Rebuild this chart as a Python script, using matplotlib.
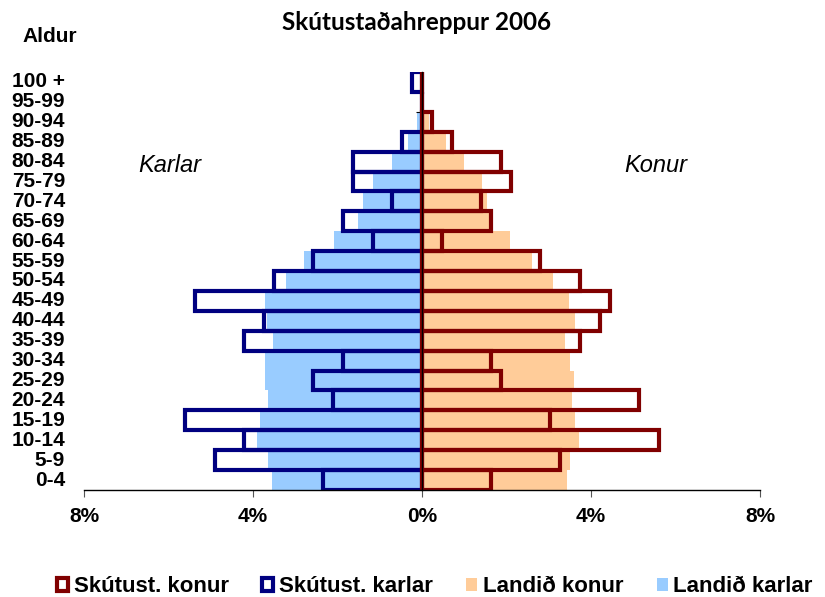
import matplotlib
matplotlib.use("Agg")
import matplotlib.pyplot as plt
import matplotlib.transforms as mtransforms
from matplotlib.patches import Patch

# ─── Data (percent of population) ─────────────────────────────────────────────
age_groups = ["0-4", "5-9", "10-14", "15-19", "20-24", "25-29", "30-34",
              "35-39", "40-44", "45-49", "50-54", "55-59", "60-64", "65-69",
              "70-74", "75-79", "80-84", "85-89", "90-94", "95-99", "100 +"]

skut_karlar = [2.34, 4.91, 4.21, 5.61, 2.10, 2.57, 1.87, 4.21, 3.74, 5.37,
               3.50, 2.57, 1.17, 1.87, 0.70, 1.64, 1.64, 0.47, 0.0, 0.0, 0.23]
skut_konur = [1.64, 3.27, 5.61, 3.04, 5.14, 1.87, 1.64, 3.74, 4.21, 4.44,
              3.74, 2.80, 0.47, 1.64, 1.40, 2.10, 1.87, 0.70, 0.23, 0.0, 0.0]
landid_karlar = [3.56, 3.64, 3.90, 3.84, 3.64, 3.71, 3.72, 3.53, 3.68, 3.72,
                 3.23, 2.80, 2.08, 1.51, 1.40, 1.16, 0.72, 0.32, 0.12, 0.03, 0.0]
landid_konur = [3.44, 3.51, 3.71, 3.62, 3.54, 3.59, 3.50, 3.38, 3.62, 3.48,
                3.09, 2.61, 2.08, 1.60, 1.54, 1.41, 0.99, 0.56, 0.17, 0.05, 0.01]

xticks = [-8, -4, 0, 4, 8]
xtick_labels = ["8%", "4%", "0%", "4%", "8%"]

NAVY = "#000080"
DARKRED = "#800000"
LIGHTBLUE = "#99CCFF"
PEACH = "#FFCC99"

plt.rcParams["font.family"] = ["Liberation Sans", "DejaVu Sans"]

fig = plt.figure(figsize=(8.25, 5.97), dpi=100)
ax = fig.add_axes([84 / 825, 107 / 597, 676 / 825, 418 / 597])

y = list(range(len(age_groups)))

# national background bars
ax.barh(y, [-v for v in landid_karlar], height=1.0, color=LIGHTBLUE, zorder=1)
ax.barh(y, landid_konur, height=1.0, color=PEACH, zorder=1)

# local outlines
ax.barh(y, [-v for v in skut_karlar], height=1.0, facecolor="none",
        edgecolor=NAVY, linewidth=3, zorder=2)
ax.barh(y, skut_konur, height=1.0, facecolor="none",
        edgecolor=DARKRED, linewidth=3, zorder=2)

ax.set_xlim(-8, 8)
ax.set_ylim(-0.5, len(age_groups) - 0.5)

# axes look
ax.spines["top"].set_visible(False)
ax.spines["right"].set_visible(False)
ax.spines["left"].set_position(("data", 0))
ax.spines["left"].set_zorder(5)
ax.spines["bottom"].set_zorder(5)
ax.spines["left"].set_linewidth(1.0)
ax.spines["bottom"].set_linewidth(1.0)

ax.set_xticks(xticks)
ax.set_xticklabels(xtick_labels, fontsize=15, fontweight="bold")
ax.tick_params(axis="x", direction="out", length=5, width=0.8, pad=7,
               color="#555555")

ax.set_yticks([i - 0.5 for i in range(1, len(age_groups))])
ax.set_yticklabels([])
ax.tick_params(axis="y", direction="out", length=4, width=0.8)

# age labels sitting at the far left
trans = mtransforms.blended_transform_factory(fig.transFigure, ax.transData)
for i, lab in enumerate(age_groups):
    ax.text(65 / 825, i, lab, transform=trans, ha="right", va="center",
            fontsize=15, fontweight="bold")

# texts
fig.text(416 / 825, 1 - 23 / 597, "Skútustaðahreppur 2006", ha="center",
         va="center", fontsize=17.5, fontweight="bold", family=["Lato", "DejaVu Sans"])
fig.text(50 / 825, 1 - 37 / 597, "Aldur", ha="center", va="center",
         fontsize=15, fontweight="bold")
fig.text(170 / 825, 1 - 165 / 597, "Karlar", ha="center", va="center",
         fontsize=17, style="italic")
fig.text(656 / 825, 1 - 165 / 597, "Konur", ha="center", va="center",
         fontsize=17, style="italic")

# legend
handles = [
    Patch(facecolor="white", edgecolor=DARKRED, linewidth=3),
    Patch(facecolor="white", edgecolor=NAVY, linewidth=3),
    Patch(facecolor=PEACH, edgecolor="none"),
    Patch(facecolor=LIGHTBLUE, edgecolor="none"),
]
labels = ["Skútust. konur", "Skútust. karlar", "Landið konur", "Landið karlar"]
fig.legend(handles, labels, loc="center", bbox_to_anchor=(435 / 825, 1 - 587 / 597),
           ncol=4, frameon=False, handlelength=0.5, handleheight=0.55,
           handletextpad=0.25, columnspacing=1.5,
           prop={"size": 16, "weight": "bold"})

fig.savefig("out.png", dpi=100)
